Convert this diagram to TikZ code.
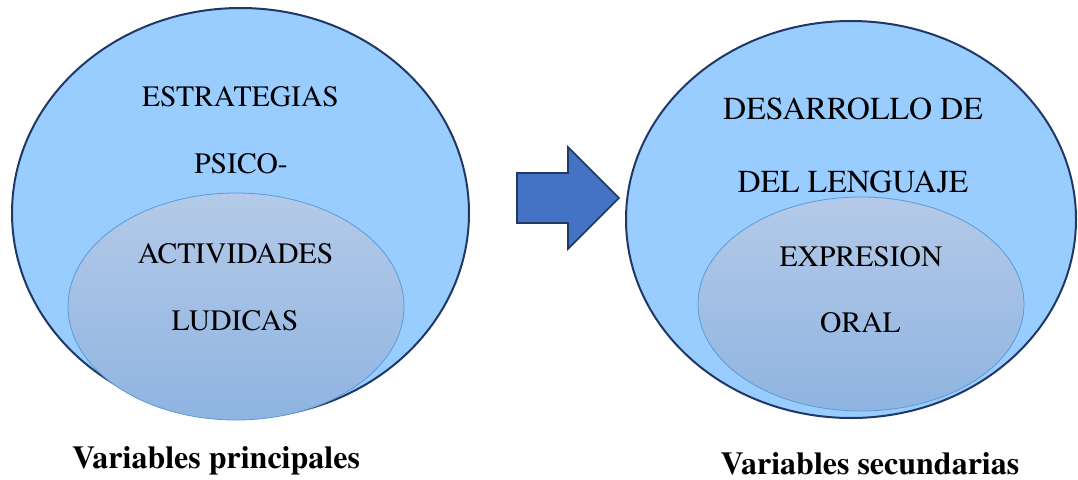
\documentclass[tikz,border=0pt]{standalone}
\usepackage{fontspec}
\setmainfont{TeX Gyre Termes}
\usetikzlibrary{shapes.geometric}
\definecolor{navy}{RGB}{31,56,100}
\definecolor{outerfill}{RGB}{153,204,255}
\definecolor{innerline}{RGB}{91,155,213}
\definecolor{innertop}{RGB}{180,202,232}
\definecolor{innerbot}{RGB}{143,180,225}
\definecolor{arrowfill}{RGB}{68,114,196}
\begin{document}
\begin{tikzpicture}[x=1pt,y=-1pt,
  outerell/.style={ellipse, draw=navy, fill=outerfill, line width=2pt, inner sep=0, outer sep=0},
  innerell/.style={ellipse, draw=innerline, line width=0.8pt, top color=innertop, bottom color=innerbot, inner sep=0, outer sep=0},
  lbl/.style={font=\fontsize{29.6}{34}\selectfont, inner sep=0, anchor=base},
  biglbl/.style={font=\fontsize{32}{36}\selectfont, inner sep=0, anchor=base},
  captxt/.style={font=\fontsize{32}{36}\selectfont\bfseries, inner sep=0, anchor=base},
  blockarrow/.style={draw=navy, fill=arrowfill, line width=1.6pt, line join=miter}]
\useasboundingbox (0,0) rectangle (1078,479);
% left group
\node[outerell, minimum width=457pt, minimum height=410pt] (LO) at (240.5,213) {};
\node[innerell, minimum width=336pt, minimum height=227pt] (LI) at (236,306.5) {};
\node[lbl] (t1) at (240.5,106) {ESTRATEGIAS};
\node[lbl] (t2) at (241,173) {PSICO-};
\node[lbl] (t3) at (235.5,263) {ACTIVIDADES};
\node[lbl] (t4) at (235,330) {LUDICAS};
\node[captxt] (c1) at (216,468) {Variables principales};
% right group
\node[outerell, minimum width=450pt, minimum height=397pt] (RO) at (851,219.5) {};
\node[innerell, minimum width=326pt, minimum height=214pt] (RI) at (861,304) {};
\node[biglbl] (r1) at (853,119) {DESARROLLO DE};
\node[biglbl] (r2) at (853,192) {DEL LENGUAJE};
\node[lbl] (r3) at (861,266) {EXPRESION};
\node[lbl] (r4) at (860.5,332) {ORAL};
\node[captxt] (c2) at (870,474) {Variables secundarias};
% block arrow
\draw[blockarrow] (517,173) -- (568,173) -- (568,147) -- (619,198) -- (568,249) -- (568,223) -- (517,223) -- cycle;
\end{tikzpicture}
\end{document}
